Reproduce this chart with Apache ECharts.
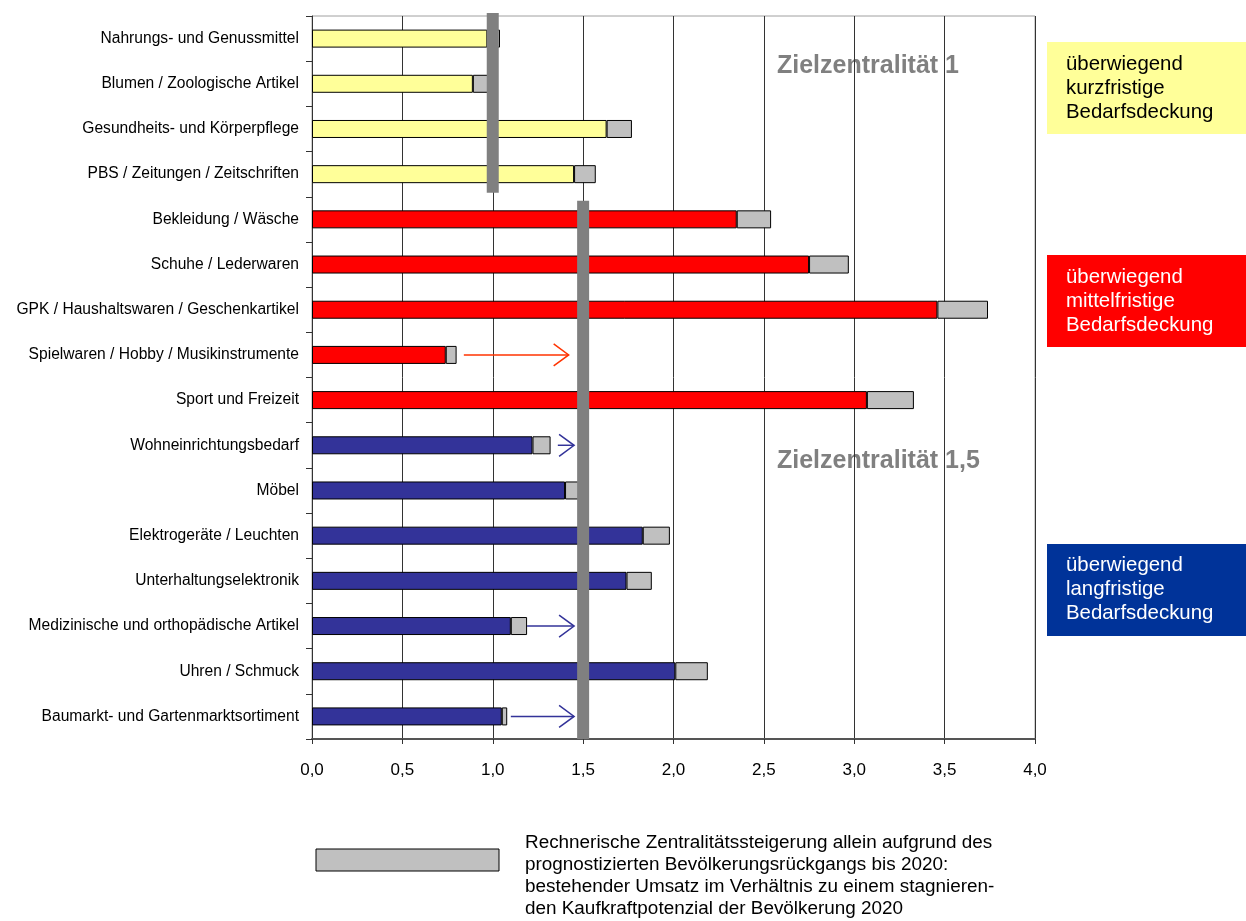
<!DOCTYPE html>
<html>
<head>
<meta charset="utf-8">
<script src="https://cdn.jsdelivr.net/npm/echarts@6/dist/echarts.min.js"></script>
<style>
html,body{margin:0;padding:0;background:#fff;}
#chart{width:1246px;height:921px;}
</style>
</head>
<body>
<div id="chart"></div>
<script>
// ---------- data ----------
const categories = [
  'Nahrungs- und Genussmittel',
  'Blumen / Zoologische Artikel',
  'Gesundheits- und Körperpflege',
  'PBS / Zeitungen / Zeitschriften',
  'Bekleidung / Wäsche',
  'Schuhe / Lederwaren',
  'GPK / Haushaltswaren / Geschenkartikel',
  'Spielwaren / Hobby / Musikinstrumente',
  'Sport und Freizeit',
  'Wohneinrichtungsbedarf',
  'Möbel',
  'Elektrogeräte / Leuchten',
  'Unterhaltungselektronik',
  'Medizinische und orthopädische Artikel',
  'Uhren / Schmuck',
  'Baumarkt- und Gartenmarktsortiment'
];
const groups = ['kurz','kurz','kurz','kurz','mittel','mittel','mittel','mittel','mittel',
                'lang','lang','lang','lang','lang','lang','lang'];
const currentCentrality = [0.97, 0.89, 1.63, 1.45, 2.35, 2.75, 3.46, 0.74, 3.07, 1.22, 1.40, 1.83, 1.74, 1.10, 2.01, 1.05];
const centrality2020    = [1.04, 0.98, 1.77, 1.57, 2.54, 2.97, 3.74, 0.80, 3.33, 1.32, 1.48, 1.98, 1.88, 1.19, 2.19, 1.08];
// target centrality per block: [target, first category index, last category index]
const targets = [[1.0, 0, 3], [1.5, 4, 15]];
// arrows: [from, to, category index]
const arrows = [[0.84, 1.42, 7], [1.36, 1.45, 9], [1.19, 1.45, 13], [1.10, 1.45, 15]];
const xTicks = {min: 0, max: 4, interval: 0.5};

// ---------- styles ----------
const groupColor = {kurz: '#FFFF99', mittel: '#FF0000', lang: '#333399'};
const arrowColor = {kurz: '#FF3300', mittel: '#FF3300', lang: '#333399'};
const FONT = '"Liberation Sans", Arial, sans-serif';

const chart = echarts.init(document.getElementById('chart'));

const increase = centrality2020.map((t, i) => +(t - currentCentrality[i]).toFixed(3));

const option = {
  animation: false,
  textStyle: {fontFamily: FONT},
  grid: {left: 312, right: 211, top: 16, bottom: 182, show: true, borderColor: '#a0a0a0', borderWidth: 1},
  xAxis: {
    type: 'value', min: xTicks.min, max: xTicks.max, interval: xTicks.interval,
    axisLine: {show: true, lineStyle: {color: '#555', width: 2}},
    axisTick: {show: true, length: 5, lineStyle: {color: '#333'}},
    splitLine: {show: true, lineStyle: {color: '#333', width: 1}},
    axisLabel: {color: '#000', fontSize: 17, margin: 23, fontFamily: FONT,
      formatter: v => v.toFixed(1).replace('.', ',')}
  },
  yAxis: {
    type: 'category', data: categories, inverse: true,
    axisLine: {show: true, lineStyle: {color: '#333', width: 1}},
    axisTick: {show: true, length: 6, lineStyle: {color: '#333'}},
    axisLabel: {color: '#000', fontSize: 15.6, margin: 13, fontFamily: FONT},
    splitLine: {show: false}
  },
  series: [
    {
      type: 'bar', stack: 's', barWidth: 18, z: 2,
      data: currentCentrality.map((v, i) => ({value: v, itemStyle: {color: groupColor[groups[i]]}})),
      itemStyle: {borderColor: '#000', borderWidth: 1}
    },
    {
      type: 'bar', stack: 's', barWidth: 18, z: 2,
      data: increase,
      itemStyle: {color: '#C0C0C0', borderColor: '#000', borderWidth: 1}
    },
    {
      type: 'custom', z: 5, clip: false,
      data: targets,
      renderItem: function (params, api) {
        const t = api.value(0), first = api.value(1), last = api.value(2);
        const band = api.size([0, 1])[1];
        const cs = params.coordSys;
        const x = api.coord([t, first])[0];
        let y0 = api.coord([t, first])[1] - band / 2;
        let y1 = api.coord([t, last])[1] + band / 2;
        if (first === 0) y0 = cs.y - 3; else y0 += 4;
        if (last === categories.length - 1) y1 = cs.y + cs.height; else y1 -= 4;
        return {type: 'rect', shape: {x: x - 6, y: y0, width: 12, height: y1 - y0},
          style: {fill: '#808080'}};
      }
    },
    {
      type: 'custom', z: 6,
      data: arrows,
      renderItem: function (params, api) {
        const a = api.coord([api.value(0), api.value(2)]);
        const b = api.coord([api.value(1), api.value(2)]);
        const col = arrowColor[groups[api.value(2)]];
        const st = {stroke: col, lineWidth: 1.5, fill: null};
        return {type: 'group', children: [
          {type: 'line', shape: {x1: a[0], y1: a[1], x2: b[0], y2: b[1]}, style: st},
          {type: 'polyline', shape: {points: [[b[0] - 15, b[1] - 11], [b[0], b[1]], [b[0] - 15, b[1] + 11]]}, style: st}
        ]};
      }
    }
  ],
  graphic: [
    {type: 'text', left: 777, top: 54, style: {text: 'Zielzentralität 1', fill: '#808080', font: 'bold 25px ' + FONT}},
    {type: 'text', left: 777, top: 449, style: {text: 'Zielzentralität 1,5', fill: '#808080', font: 'bold 25px ' + FONT}},
    {type: 'rect', shape: {x: 1047, y: 42, width: 199, height: 92}, style: {fill: '#FFFF99'}},
    {type: 'text', x: 1066, y: 52, style: {text: 'überwiegend\nkurzfristige\nBedarfsdeckung', fill: '#000', font: '20.4px ' + FONT, lineHeight: 24}},
    {type: 'rect', shape: {x: 1047, y: 255, width: 199, height: 92}, style: {fill: '#FF0000'}},
    {type: 'text', x: 1066, y: 265, style: {text: 'überwiegend\nmittelfristige\nBedarfsdeckung', fill: '#fff', font: '20.4px ' + FONT, lineHeight: 24}},
    {type: 'rect', shape: {x: 1047, y: 544, width: 199, height: 92}, style: {fill: '#003399'}},
    {type: 'text', x: 1066, y: 553, style: {text: 'überwiegend\nlangfristige\nBedarfsdeckung', fill: '#fff', font: '20.4px ' + FONT, lineHeight: 24}},
    {type: 'rect', shape: {x: 316, y: 849, width: 183, height: 22}, style: {fill: '#C0C0C0', stroke: '#000', lineWidth: 1}},
    {type: 'text', x: 525, y: 832, style: {text: 'Rechnerische Zentralitätssteigerung allein aufgrund des\nprognostizierten Bevölkerungsrückgangs bis 2020:\nbestehender Umsatz im Verhältnis zu einem stagnieren-\nden Kaufkraftpotenzial der Bevölkerung 2020', fill: '#000', font: '18.9px ' + FONT, lineHeight: 22}}
  ]
};
chart.setOption(option);
</script>
</body>
</html>
